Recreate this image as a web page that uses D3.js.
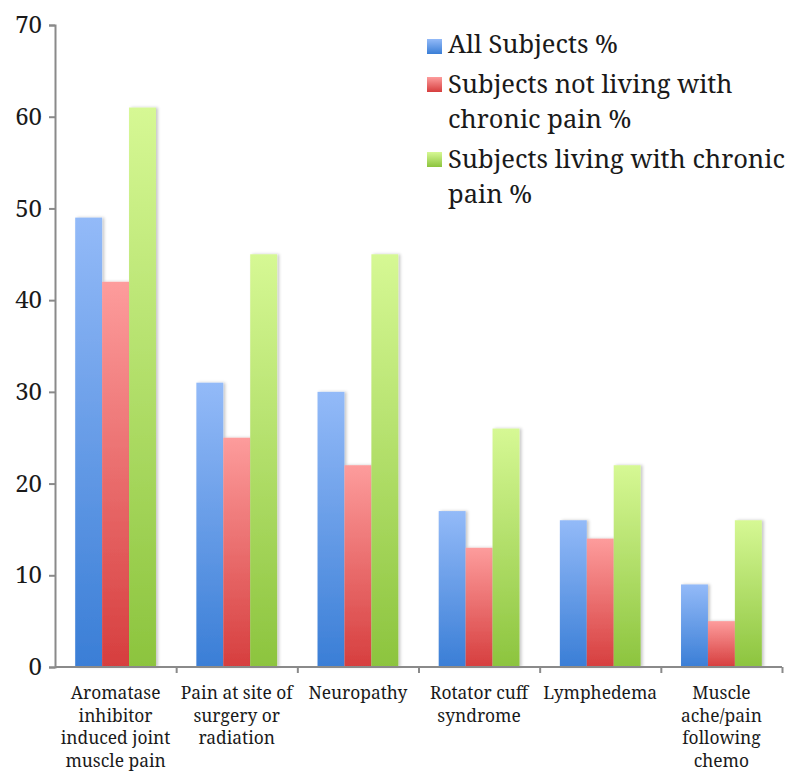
<!DOCTYPE html>
<html><head><meta charset="utf-8">
<script src="https://cdn.jsdelivr.net/npm/d3@7"></script>
<style>
html,body{margin:0;padding:0;background:#fff;}
svg{display:block;}
</style></head>
<body>
<svg id="chart" width="800" height="782"></svg>
<script>
const categories = [
  ["Aromatase","inhibitor","induced joint","muscle pain"],
  ["Pain at site of","surgery or","radiation"],
  ["Neuropathy"],
  ["Rotator cuff","syndrome"],
  ["Lymphedema"],
  ["Muscle","ache/pain","following","chemo"]
];
const seriesNames = [
  ["All Subjects %"],
  ["Subjects not living with","chronic pain %"],
  ["Subjects living with chronic","pain %"]
];
const allSubjects = [49, 31, 30, 17, 16, 9];
const notChronic = [42, 25, 22, 13, 14, 5];
const withChronic = [61, 45, 45, 26, 22, 16];
const yTicks = [0, 10, 20, 30, 40, 50, 60, 70];

const series = [allSubjects, notChronic, withChronic];
const topColors = ["#93baf8", "#fd9c9c", "#d6f894"];
const botColors = ["#3a7ed6", "#d63e3e", "#8cc43e"];
const FONT = '"Noto Serif", serif';
const TEXT = "#1a1a1a";

const svg = d3.select("#chart");
const mLeft = 55, mRight = 782, mTop = 25, mBottom = 667;

const x0 = d3.scaleBand().domain(d3.range(categories.length)).range([mLeft, mRight]).paddingInner(0).paddingOuter(0);
const x1 = d3.scaleBand().domain(d3.range(3)).range([0, x0.bandwidth()]).paddingOuter(0.75).paddingInner(0);
const y = d3.scaleLinear().domain([0, 70]).range([mBottom, mTop]);

const defs = svg.append("defs");
series.forEach((s, i) => {
  const g = defs.append("linearGradient").attr("id", "grad" + i)
    .attr("x1", 0).attr("y1", 0).attr("x2", 0).attr("y2", 1);
  g.append("stop").attr("offset", "0%").attr("stop-color", topColors[i]);
  g.append("stop").attr("offset", "100%").attr("stop-color", botColors[i]);
});
const f = defs.append("filter").attr("id", "shadow").attr("x", "-20%").attr("y", "-5%").attr("width", "150%").attr("height", "110%");
f.append("feDropShadow").attr("dx", 2).attr("dy", 0).attr("stdDeviation", 1.5).attr("flood-color", "#000").attr("flood-opacity", 0.22);

// bars
const groups = svg.append("g").selectAll("g").data(categories).join("g")
  .attr("transform", (d, i) => `translate(${x0(i)},0)`);
groups.each(function(d, ci) {
  d3.select(this).selectAll("rect").data(series.map((s, si) => ({si, v: s[ci]}))).join("rect")
    .attr("x", e => x1(e.si))
    .attr("width", x1.bandwidth())
    .attr("y", e => y(e.v))
    .attr("height", e => y(0) - y(e.v))
    .attr("fill", e => `url(#grad${e.si})`)
    .attr("filter", "url(#shadow)");
});

// y axis
const yAxis = d3.axisLeft(y).tickValues(yTicks).tickSize(6).tickPadding(7);
const ya = svg.append("g").attr("transform", `translate(${mLeft},0)`).call(yAxis);
ya.attr("font-family", FONT);
ya.select(".domain").attr("stroke", "#8a8a8a").attr("stroke-width", 2);
ya.selectAll(".tick line").attr("stroke", "#8a8a8a").attr("stroke-width", 2);
ya.selectAll(".tick text").attr("font-size", 24).attr("fill", TEXT).attr("font-family", FONT);

// x axis
const xb = d3.scaleLinear().domain([0, categories.length]).range([mLeft, mRight]);
const xa = svg.append("g").attr("transform", `translate(0,${mBottom})`)
  .call(d3.axisBottom(xb).tickValues(d3.range(1, categories.length + 1)).tickSize(6).tickFormat(""));
xa.select(".domain").attr("stroke", "#8a8a8a").attr("stroke-width", 2).attr("d", `M${mLeft},0H${mRight}`);
xa.selectAll(".tick line").attr("stroke", "#8a8a8a").attr("stroke-width", 2);

// x labels
const lab = svg.append("g");
categories.forEach((lines, i) => {
  const t = lab.append("text").attr("text-anchor", "middle")
    .attr("font-family", FONT).attr("font-size", 17.4).attr("fill", TEXT);
  lines.forEach((ln, j) => {
    t.append("tspan").attr("x", x0(i) + x0.bandwidth() / 2).attr("y", 699 + j * 22.7).text(ln);
  });
});

// legend
const legY = [[53], [93, 128], [168, 203]];
const swY = [39, 77, 152];
const leg = svg.append("g");
seriesNames.forEach((lines, i) => {
  leg.append("rect").attr("x", 427).attr("y", swY[i]).attr("width", 15).attr("height", 15)
    .attr("fill", `url(#grad${i})`);
  const t = leg.append("text").attr("font-family", FONT).attr("font-size", 25.5).attr("fill", TEXT);
  lines.forEach((ln, j) => t.append("tspan").attr("x", 448).attr("y", legY[i][j]).text(ln));
});
</script>
</body></html>
